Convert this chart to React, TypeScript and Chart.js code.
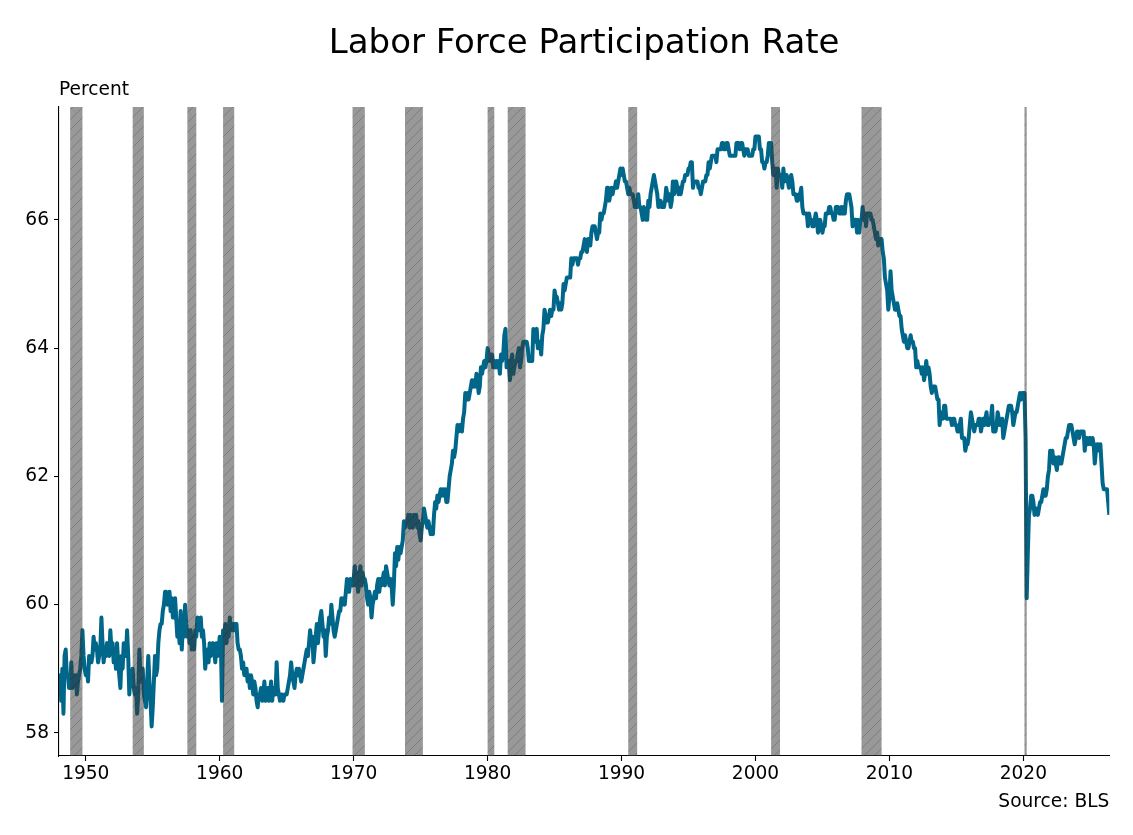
import React, { useEffect, useRef } from "react";
import { Chart, registerables } from "chart.js";

Chart.register(...registerables);

// ---------- Data (monthly, percent), starting January 1948 ----------
const startYear = 1948;

const lfpr1940s = [
  58.6, 58.9, 58.5, 59.0, 58.3, 59.2, 59.3, 58.9, 58.9, 58.7, 58.7, 59.1,
  58.7, 58.9, 58.8, 58.9, 58.6, 58.8, 58.9, 59.0, 59.2, 59.6, 59.2, 59.0,
];

const lfpr1950s = [
  58.9, 59.0, 58.8, 59.2, 59.1, 59.1, 59.2, 59.5, 59.3, 59.4, 59.3, 59.1,
  59.2, 59.3, 59.8, 59.4, 59.1, 59.3, 59.2, 59.4, 59.3, 59.2, 59.6, 59.3,
  59.4, 59.1, 59.3, 59.0, 59.4, 59.1, 58.9, 58.7, 59.2, 59.0, 59.4, 59.2,
  59.2, 59.6, 59.2, 58.6, 58.9, 58.8, 59.0, 58.7, 58.6, 58.7, 58.3, 58.6,
  59.3, 58.9, 58.8, 59.0, 58.6, 58.5, 58.4, 58.8, 59.2, 58.8, 58.5, 58.1,
  58.4, 58.8, 59.2, 58.9, 59.0, 59.4, 59.6, 59.7, 59.7, 59.9, 60.0, 60.2,
  60.2, 60.0, 60.1, 60.2, 59.9, 60.1, 59.8, 60.0, 60.1, 59.8, 59.5, 59.7,
  59.4, 59.9, 59.3, 59.7, 59.5, 60.0, 59.7, 59.5, 59.6, 59.4, 59.6, 59.3,
  59.5, 59.3, 59.6, 59.5, 59.8, 59.6, 59.7, 59.8, 59.5, 59.6, 59.4, 59.0,
  59.2, 59.3, 59.1, 59.4, 59.2, 59.3, 59.4, 59.3, 59.1, 59.4, 59.2, 59.3,
];

const lfpr1960s = [
  59.5, 59.4, 58.5, 59.6, 59.5, 59.7, 59.4, 59.6, 59.5, 59.8, 59.6, 59.7,
  59.6, 59.7, 59.6, 59.7, 59.4, 59.3, 59.3, 59.2, 59.0, 59.1, 58.9, 58.9,
  59.0, 58.8, 58.9, 58.7, 58.9, 58.8, 58.6, 58.8, 58.7, 58.5, 58.4, 58.6,
  58.6, 58.7, 58.5, 58.6, 58.8, 58.5, 58.6, 58.7, 58.5, 58.6, 58.8, 58.5,
  58.7, 58.6, 58.6, 59.1, 58.7, 58.6, 58.5, 58.6, 58.6, 58.5, 58.6, 58.6,
  58.6, 58.7, 58.8, 58.9, 59.1, 58.9, 58.8, 58.7, 58.9, 59.0, 58.9, 59.0,
  58.9, 58.8, 58.9, 59.0, 59.1, 59.2, 59.3, 59.2, 59.4, 59.6, 59.4, 59.5,
  59.1, 59.3, 59.5, 59.7, 59.4, 59.6, 59.8, 59.9, 59.7, 59.5, 59.6, 59.2,
  59.5, 59.6, 59.8, 59.7, 60.0, 59.8, 59.6, 59.5, 59.6, 59.7, 59.8, 59.9,
  59.9, 60.1, 60.0, 60.1, 60.0, 60.2, 60.4, 60.3, 60.2, 60.4, 60.3, 60.3,
];

const lfpr1970s = [
  60.4, 60.6, 60.3, 60.5, 60.2, 60.4, 60.6, 60.3, 60.5, 60.4, 60.4, 60.3,
  60.1, 60.0, 60.2, 60.1, 59.8, 60.0, 60.1, 60.2, 60.1, 60.3, 60.4, 60.2,
  60.4, 60.3, 60.4, 60.5, 60.3, 60.6, 60.5, 60.4, 60.3, 60.4, 60.3, 60.0,
  60.3, 60.8, 60.6, 60.9, 60.7, 60.9, 60.8, 60.9, 61.0, 61.3, 61.2, 61.3,
  61.3, 61.4, 61.2, 61.4, 61.3, 61.2, 61.4, 61.3, 61.4, 61.2, 61.3, 61.1,
  61.0, 61.2, 61.3, 61.5, 61.4, 61.3, 61.2, 61.3, 61.2, 61.1, 61.2, 61.1,
  61.4, 61.6, 61.5, 61.7, 61.6, 61.7, 61.8, 61.7, 61.8, 61.7, 61.8, 61.6,
  61.6, 61.8, 62.0, 62.1, 62.2, 62.4, 62.3, 62.4, 62.6, 62.8, 62.7, 62.8,
  62.8, 62.7, 62.9, 63.0, 63.3, 63.2, 63.3, 63.2, 63.3, 63.4, 63.5, 63.4,
  63.5, 63.4, 63.6, 63.5, 63.3, 63.4, 63.7, 63.6, 63.7, 63.8, 63.7, 63.8,
];

const lfpr1980s = [
  64.0, 63.9, 63.8, 63.9, 63.9, 63.7, 63.8, 63.7, 63.8, 63.7, 63.8, 63.6,
  63.9, 63.8, 63.9, 64.2, 64.3, 63.7, 63.8, 63.8, 63.5, 63.8, 63.9, 63.6,
  63.7, 63.8, 63.8, 63.9, 64.0, 63.7, 63.8, 64.0, 64.1, 64.1, 64.1, 64.1,
  64.0, 63.8, 63.8, 63.8, 63.8, 64.3, 64.1, 64.2, 64.3, 64.0, 64.1, 64.1,
  63.9, 64.2, 64.3, 64.6, 64.5, 64.4, 64.4, 64.5, 64.6, 64.5, 64.6, 64.6,
  64.9, 64.8, 64.8, 64.7, 64.6, 64.7, 64.6, 64.7, 65.0, 64.9, 65.0, 65.1,
  65.1, 65.1, 65.1, 65.4, 65.3, 65.4, 65.4, 65.4, 65.4, 65.3, 65.4, 65.4,
  65.5, 65.5, 65.6, 65.7, 65.6, 65.5, 65.7, 65.7, 65.6, 65.8, 65.9, 65.9,
  65.9, 65.8, 65.7, 65.8, 65.8, 66.1, 66.0, 66.1, 66.1, 66.2, 66.3, 66.5,
  66.5, 66.3, 66.4, 66.5, 66.4, 66.5, 66.5, 66.6, 66.5, 66.6, 66.7, 66.8,
];

const lfpr1990s = [
  66.7, 66.8, 66.7, 66.6, 66.6, 66.5, 66.4, 66.5, 66.4, 66.4, 66.4, 66.3,
  66.2, 66.3, 66.2, 66.4, 66.2, 66.2, 66.1, 66.0, 66.2, 66.1, 66.0, 66.0,
  66.3, 66.2, 66.4, 66.5, 66.6, 66.7, 66.6, 66.5, 66.4, 66.2, 66.3, 66.3,
  66.2, 66.2, 66.2, 66.3, 66.5, 66.4, 66.3, 66.4, 66.2, 66.3, 66.6, 66.4,
  66.6, 66.6, 66.5, 66.4, 66.5, 66.4, 66.5, 66.6, 66.6, 66.7, 66.7, 66.7,
  66.8, 66.8, 66.9, 66.9, 66.5, 66.6, 66.6, 66.6, 66.6, 66.5, 66.5, 66.4,
  66.5, 66.6, 66.6, 66.6, 66.7, 66.7, 66.9, 66.8, 66.9, 67.0, 67.0, 67.0,
  67.0, 66.9, 67.1, 67.1, 67.1, 67.1, 67.2, 67.2, 67.1, 67.1, 67.2, 67.2,
  67.1, 67.0, 67.0, 67.0, 67.0, 67.0, 67.0, 67.2, 67.2, 67.2, 67.1, 67.2,
  67.2, 67.1, 67.0, 67.1, 67.1, 67.1, 67.0, 67.0, 67.0, 67.0, 67.1, 67.1,
];

const lfpr2000s = [
  67.3, 67.3, 67.3, 67.3, 67.1, 67.1, 66.9, 66.9, 66.8, 66.9, 66.9, 67.0,
  67.2, 67.2, 67.2, 66.9, 66.7, 66.7, 66.8, 66.5, 66.8, 66.7, 66.7, 66.7,
  66.5, 66.8, 66.6, 66.7, 66.7, 66.6, 66.5, 66.6, 66.7, 66.6, 66.4, 66.4,
  66.4, 66.3, 66.3, 66.4, 66.4, 66.5, 66.2, 66.1, 66.1, 66.1, 66.1, 65.9,
  66.1, 66.0, 66.0, 65.9, 65.9, 66.0, 66.1, 66.0, 65.8, 65.9, 66.0, 65.9,
  65.8, 65.9, 65.9, 66.1, 66.1, 66.1, 66.2, 66.2, 66.1, 66.1, 66.0, 66.0,
  66.2, 66.2, 66.2, 66.1, 66.1, 66.2, 66.1, 66.2, 66.1, 66.3, 66.4, 66.4,
  66.4, 66.3, 66.2, 65.9, 66.0, 66.0, 66.0, 65.8, 66.0, 65.8, 66.0, 66.0,
  66.2, 66.0, 66.1, 65.9, 66.1, 66.1, 66.1, 66.1, 66.0, 66.0, 65.9, 65.8,
  65.7, 65.8, 65.6, 65.7, 65.7, 65.7, 65.5, 65.4, 65.1, 65.0, 64.9, 64.6,
];

const lfpr2010s = [
  64.8, 65.2, 64.9, 64.8, 64.7, 64.6, 64.6, 64.7, 64.6, 64.5, 64.5, 64.3,
  64.2, 64.1, 64.2, 64.1, 64.0, 64.0, 64.1, 64.2, 64.1, 64.1, 64.0, 64.0,
  63.7, 63.8, 63.7, 63.7, 63.7, 63.6, 63.7, 63.5, 63.6, 63.8, 63.6, 63.7,
  63.6, 63.4, 63.3, 63.4, 63.4, 63.4, 63.3, 63.2, 63.2, 62.8, 63.0, 62.9,
  62.9, 63.1, 63.1, 62.9, 62.9, 62.9, 62.9, 62.9, 62.8, 62.9, 62.9, 62.8,
  62.8, 62.7, 62.7, 62.8, 62.9, 62.6, 62.6, 62.6, 62.4, 62.5, 62.5, 62.6,
  62.8, 63.0, 62.9, 62.8, 62.7, 62.8, 62.8, 62.8, 62.9, 62.9, 62.7, 62.8,
  62.9, 62.8, 62.9, 63.0, 62.8, 62.8, 62.9, 62.9, 63.1, 62.7, 62.8, 62.7,
  62.8, 63.0, 62.9, 62.8, 62.8, 62.9, 62.6, 62.7, 62.8, 62.9, 63.0, 63.1,
  63.1, 63.1, 63.0, 62.8, 62.9, 63.0, 63.0, 63.1, 63.2, 63.3, 63.2, 63.3,
];

const lfpr2020s = [
  63.3, 63.3, 62.6, 60.1, 60.8, 61.4, 61.5, 61.7, 61.7, 61.6, 61.4, 61.5,
  61.5, 61.4, 61.5, 61.6, 61.6, 61.7, 61.8, 61.7, 61.7, 61.8, 62.0, 62.1,
  62.4, 62.3, 62.4, 62.2, 62.3, 62.2, 62.1, 62.3, 62.3, 62.2, 62.2, 62.3,
  62.4, 62.5, 62.6, 62.6, 62.7, 62.8, 62.8, 62.8, 62.7, 62.6, 62.5, 62.6,
  62.7, 62.7, 62.6, 62.7, 62.7, 62.7, 62.7, 62.4, 62.6, 62.6, 62.5, 62.6,
  62.6, 62.5, 62.6, 62.5, 62.2, 62.4, 62.5, 62.5, 62.4, 62.5, 62.2, 61.9,
  61.8, 61.8, 61.8, 61.8, 61.6, 61.4,
];

const monthlyRate = [
  ...lfpr1940s, ...lfpr1950s, ...lfpr1960s, ...lfpr1970s, ...lfpr1980s,
  ...lfpr1990s, ...lfpr2000s, ...lfpr2010s, ...lfpr2020s,
];
const monthDates = monthlyRate.map((_, i) => startYear + i / 12);

// NBER recessions (decimal years, first of month)
const recessionStarts = [1948.833, 1953.5, 1957.583, 1960.25, 1969.917, 1973.833, 1980.0, 1981.5, 1990.5, 2001.167, 2007.917, 2020.083];
const recessionEnds = [1949.75, 1954.333, 1958.25, 1961.083, 1970.833, 1975.167, 1980.5, 1982.833, 1991.167, 2001.833, 2009.417, 2020.25];

const xTickYears = [1950, 1960, 1970, 1980, 1990, 2000, 2010, 2020];
const yTickValues = [58, 60, 62, 64, 66];

const titleText = "Labor Force Participation Rate";
const yAxisLabel = "Percent";
const sourceNote = "Source: BLS";

const FONT = "'DejaVu Sans', 'Liberation Sans', sans-serif";
const LINE_COLOR = "#00678a";
const LABEL_SIZE = 18.6;

const recessionPlugin = {
  id: "recessionBands",
  afterDatasetsDraw(chart: any) {
    const { ctx, chartArea } = chart;
    const xs = chart.scales.x;
    const top = chartArea.top;
    const bottom = chartArea.bottom;
    ctx.save();
    ctx.beginPath();
    ctx.rect(chartArea.left, top, chartArea.right - chartArea.left, bottom - top);
    ctx.clip();
    recessionStarts.forEach((s, k) => {
      const x1 = xs.getPixelForValue(s);
      const x2 = xs.getPixelForValue(recessionEnds[k]);
      const w = x2 - x1;
      ctx.fillStyle = "rgba(58,58,58,0.52)";
      ctx.fillRect(x1, top, w, bottom - top);
      ctx.save();
      ctx.beginPath();
      ctx.rect(x1, top, w, bottom - top);
      ctx.clip();
      ctx.strokeStyle = "rgba(0,0,0,0.18)";
      ctx.lineWidth = 1;
      ctx.beginPath();
      const step = 10;
      for (let y0 = top - (top % step); y0 <= bottom + w + step; y0 += step) {
        ctx.moveTo(x1 - 1, y0 - (x1 % step) + 1);
        ctx.lineTo(x2 + 1, y0 - (x1 % step) - w - 1);
      }
      ctx.stroke();
      ctx.restore();
    });
    ctx.restore();
  },
};

const textPlugin = {
  id: "extraTexts",
  afterDraw(chart: any) {
    const { ctx, chartArea } = chart;
    ctx.save();
    ctx.fillStyle = "#000";
    ctx.font = `${LABEL_SIZE}px ${FONT}`;
    ctx.textBaseline = "alphabetic";
    ctx.textAlign = "left";
    ctx.fillText(yAxisLabel, chartArea.left, chartArea.top - 12);
    ctx.textAlign = "right";
    ctx.fillText(sourceNote, chartArea.right, chartArea.bottom + 50.5);
    ctx.restore();
  },
};

export default function App() {
  const canvasRef = useRef<HTMLCanvasElement | null>(null);

  useEffect(() => {
    const canvas = canvasRef.current;
    if (!canvas) return;
    const yMinData = Math.min(...monthlyRate);
    const yMaxData = Math.max(...monthlyRate);
    const span = yMaxData - yMinData;

    const chart = new Chart(canvas, {
      type: "line",
      data: {
        datasets: [
          {
            data: monthDates.map((t, i) => ({ x: t, y: monthlyRate[i] })),
            borderColor: LINE_COLOR,
            backgroundColor: LINE_COLOR,
            borderWidth: 4,
            pointRadius: 0,
            pointHoverRadius: 0,
            tension: 0,
            fill: false,
            borderJoinStyle: "round",
            borderCapStyle: "butt",
          },
        ],
      },
      options: {
        animation: false,
        responsive: false,
        devicePixelRatio: 1,
        layout: { padding: { left: 0, right: 23.7, top: 0, bottom: 0 } },
        plugins: {
          legend: { display: false },
          tooltip: { enabled: false },
          title: {
            display: true,
            text: titleText,
            fullSize: false,
            align: "center",
            color: "#000",
            font: { family: FONT, size: 34, weight: "normal", lineHeight: 1.2 },
            padding: { top: 23.5, bottom: 42.7 },
          },
        },
        scales: {
          x: {
            type: "linear",
            min: monthDates[0],
            max: monthDates[monthDates.length - 1],
            afterFit: (s: any) => {
              s.height = 79;
            },
            afterBuildTicks: (s: any) => {
              s.ticks = xTickYears.map((v) => ({ value: v }));
            },
            ticks: {
              autoSkip: false,
              maxRotation: 0,
              minRotation: 0,
              padding: 2,
              color: "#000",
              font: { family: FONT, size: LABEL_SIZE },
              callback: (v: any) => String(v),
            },
            grid: {
              display: true,
              drawOnChartArea: false,
              drawTicks: true,
              tickLength: 5,
              tickWidth: 1.1,
              tickColor: "#000",
            },
            border: { display: true, color: "#000", width: 1.1 },
          },
          y: {
            type: "linear",
            min: yMinData - 0.05 * span,
            max: yMaxData + 0.05 * span,
            afterFit: (s: any) => {
              s.width = 59;
            },
            afterBuildTicks: (s: any) => {
              s.ticks = yTickValues.map((v) => ({ value: v }));
            },
            ticks: {
              autoSkip: false,
              padding: 5,
              color: "#000",
              font: { family: FONT, size: LABEL_SIZE },
              callback: (v: any) => String(v),
            },
            grid: {
              display: true,
              drawOnChartArea: false,
              drawTicks: true,
              tickLength: 5,
              tickWidth: 1.1,
              tickColor: "#000",
            },
            border: { display: true, color: "#000", width: 1.1 },
          },
        },
      },
      plugins: [recessionPlugin, textPlugin],
    } as any);

    return () => {
      chart.destroy();
    };
  }, []);

  return (
    <div
      style={{
        position: "absolute",
        left: 0,
        top: 0,
        width: 1133,
        height: 835,
        background: "#ffffff",
      }}
    >
      <canvas ref={canvasRef} width={1133} height={835} style={{ width: 1133, height: 835, display: "block" }} />
    </div>
  );
}
